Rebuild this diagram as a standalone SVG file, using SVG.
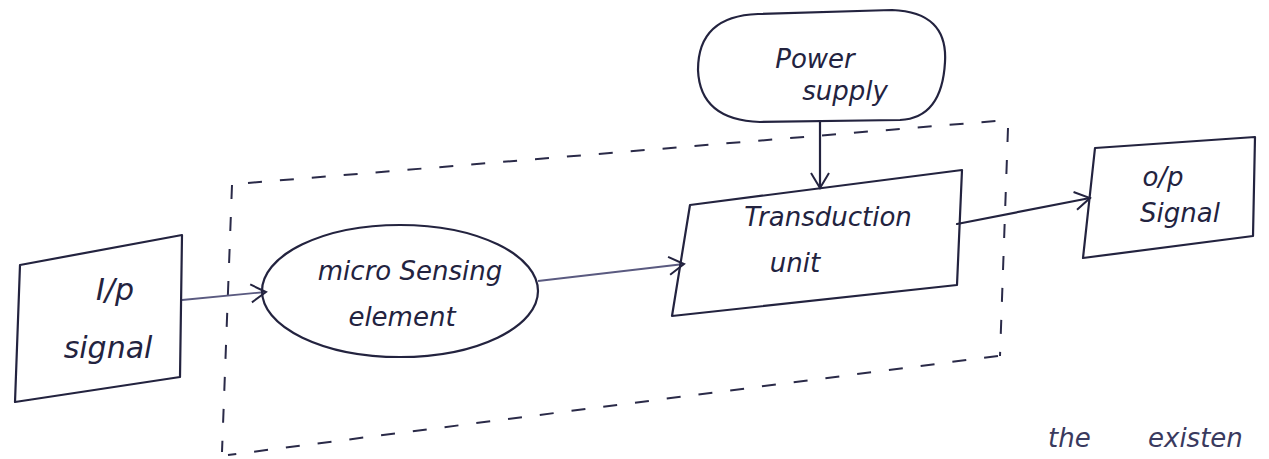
<svg xmlns="http://www.w3.org/2000/svg" width="1269" height="459" viewBox="0 0 1269 459">
  <style>
    .ink { fill: none; stroke: #23233f; stroke-width: 2.2; stroke-linejoin: round; stroke-linecap: round; }
    .edge { fill: none; stroke: #5a5a80; stroke-width: 1.8; }
    .dash { fill: none; stroke: #2a2a48; stroke-width: 2; stroke-dasharray: 14 18; }
    .hand { font-family: "DejaVu Sans", sans-serif; font-style: italic; font-size: 26px; fill: #23233f; text-anchor: middle; }
    .big { font-size: 30px; }
    .note { font-family: "DejaVu Sans", sans-serif; font-style: italic; font-size: 26px; fill: #3a3a5e; }
  </style>
  <defs>
    <marker id="open" markerWidth="24" markerHeight="24" refX="18" refY="11" orient="auto" markerUnits="userSpaceOnUse">
      <path d="M3,2 L18,11 L3,20" fill="none" stroke="#23233f" stroke-width="2"/>
    </marker>
  </defs>
  <rect width="1269" height="459" fill="#ffffff"/>

  <!-- dashed boundary around sensing and transduction -->
  <g id="boundary">
    <path class="dash" d="M232,185 L222,452"/>
    <path class="dash" d="M248,183 L1008,120"/>
    <path class="dash" d="M1008,128 L1000,356"/>
    <path class="dash" d="M998,356 L228,455"/>
  </g>

  <g id="connectors">
    <path class="edge" d="M182,300 L266,292" marker-end="url(#open)"/>
    <path class="edge" d="M538,281 L684,264" marker-end="url(#open)"/>
    <path class="ink" d="M820,122 L820,188" marker-end="url(#open)"/>
    <path class="ink" d="M957,224 L1090,198" marker-end="url(#open)"/>
  </g>

  <g id="input">
    <path class="ink" d="M20,265 L182,235 L180,377 L15,402 Z"/>
    <text class="hand big" x="115" y="300">I/p</text>
    <text class="hand big" x="108" y="358">signal</text>
  </g>

  <g id="sensing">
    <ellipse class="ink" cx="400" cy="291" rx="138" ry="66"/>
    <text class="hand" x="410" y="280">micro Sensing</text>
    <text class="hand" x="402" y="326">element</text>
  </g>

  <g id="transduction">
    <path class="ink" d="M690,205 L962,170 L957,285 L672,316 Z"/>
    <text class="hand" x="828" y="226">Transduction</text>
    <text class="hand" x="795" y="272">unit</text>
  </g>

  <g id="power">
    <path class="ink" d="M758,14 L892,10 Q948,12 945,62 Q942,118 900,120 L760,122 Q700,120 698,70 Q698,16 758,14 Z"/>
    <text class="hand" x="815" y="68">Power</text>
    <text class="hand" x="845" y="100">supply</text>
  </g>

  <g id="output">
    <path class="ink" d="M1095,148 L1255,137 L1253,236 L1083,258 Z"/>
    <text class="hand" x="1163" y="186">o/p</text>
    <text class="hand" x="1180" y="222">Signal</text>
  </g>

  <text class="note" x="1048" y="447">the</text>
  <text class="note" x="1148" y="447">existen</text>
</svg>
